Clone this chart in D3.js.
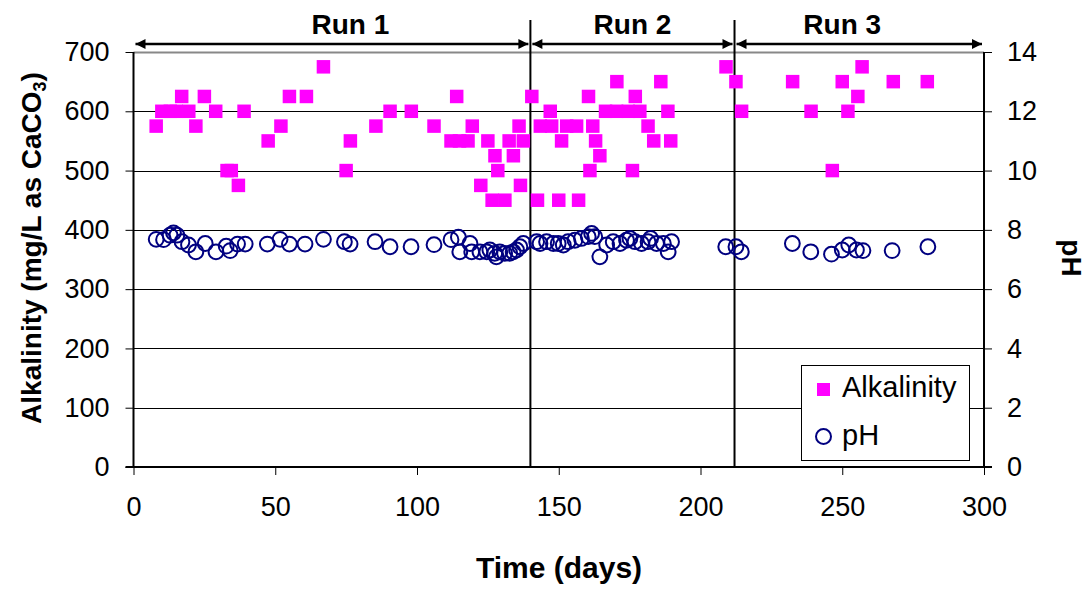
<!DOCTYPE html>
<html>
<head>
<meta charset="utf-8">
<script src="https://cdn.jsdelivr.net/npm/d3@7"></script>
<style>
  html, body { margin: 0; padding: 0; background: #fff; }
  svg { display: block; font-family: Arial, "Liberation Sans", sans-serif; }
</style>
</head>
<body>
<svg id="chart" width="1092" height="590"></svg>
<script>
// Alkalinity samples: day, mg/L as CaCO3
const alkDays = [8, 10, 13, 15, 17, 19.5, 22, 25, 29, 33, 34.5, 37, 39, 47.5, 52, 55, 61, 67, 75, 76.5, 85.5, 90.5, 98,
  106, 112, 114, 115, 118, 119.5, 122.5, 125, 126.5, 127.5, 128.5, 131, 132.5, 134, 136, 136.5, 137.5,
  140.5, 142.5, 143.5, 147, 147.5, 150, 151, 152.8, 156.3, 157, 160.5, 161, 162, 163, 164.5, 166.5, 170.4, 170.5,
  174.5, 176, 177, 178.6, 181.5, 183.5, 186, 188.5, 189.5,
  209, 212.5, 214.5, 232.5, 239, 246.5, 250, 252, 255.5, 257, 268, 280];
const alkValues = [575, 600, 600, 600, 625, 600, 575, 625, 600, 500, 500, 475, 600, 550, 575, 625, 625, 675, 500, 550, 575, 600, 600,
  575, 550, 625, 550, 550, 575, 475, 550, 450, 525, 500, 450, 550, 525, 575, 475, 550,
  625, 450, 575, 600, 575, 450, 550, 575, 575, 450, 625, 500, 575, 550, 525, 600, 600, 650,
  600, 500, 625, 600, 575, 550, 650, 600, 550,
  675, 650, 600, 650, 600, 500, 650, 600, 625, 675, 650, 650];

// pH samples: day, pH
const phDays = [8, 10.6, 12.9, 14.1, 15.3, 17.1, 19.4, 22, 25.3, 29.1, 32.7, 34.1, 36.7, 39.4, 47.2, 51.7, 55, 60.5, 67, 74.4, 76.4, 85.2, 90.5, 97.9,
  106, 112, 114.6, 115.1, 118.7, 119.3, 122.2, 124.6, 125.7, 127.4, 128, 129.2, 130.9, 132.7, 133.9, 135.1, 136.3, 137.5,
  142.2, 143.4, 145.7, 148.1, 149.8, 151.6, 153.3, 155.7, 158, 160.4, 161.6, 162.7, 164.5, 166.9, 169.2, 171.6, 173.9, 175.1,
  176.9, 179.2, 181.5, 182.4, 184.5, 186.9, 188.6, 189.8,
  208.9, 212.5, 214.4, 232.4, 238.9, 246.2, 250, 252.3, 255, 257.3, 267.6, 280.2];
const phValues = [7.68, 7.67, 7.82, 7.9, 7.82, 7.6, 7.49, 7.26, 7.54, 7.26, 7.45, 7.3, 7.52, 7.52, 7.52, 7.68, 7.52, 7.52, 7.68, 7.6, 7.52, 7.6, 7.43, 7.43,
  7.5, 7.67, 7.75, 7.26, 7.54, 7.26, 7.26, 7.26, 7.32, 7.21, 7.09, 7.26, 7.21, 7.21, 7.26, 7.32, 7.43, 7.54,
  7.6, 7.54, 7.6, 7.54, 7.54, 7.49, 7.6, 7.65, 7.71, 7.77, 7.88, 7.77, 7.09, 7.49, 7.6, 7.54, 7.65, 7.71,
  7.6, 7.54, 7.6, 7.71, 7.54, 7.54, 7.26, 7.6,
  7.43, 7.43, 7.26, 7.54, 7.26, 7.18, 7.32, 7.49, 7.32, 7.3, 7.3, 7.43];

// Run boundaries (days), labels and where each label sits (day)
const runBounds = [0, 140, 212, 300];
const runLabels = ["Run 1", "Run 2", "Run 3"];
const runLabelDays = [76.5, 176, 250];

const xTicks = [0, 50, 100, 150, 200, 250, 300];
const alkTicks = [0, 100, 200, 300, 400, 500, 600, 700];
const phTicks = [0, 2, 4, 6, 8, 10, 12, 14];

const svg = d3.select("#chart");
const L = 133.5, R = 984, T = 52, B = 467;

const x = d3.scaleLinear().domain([0, 300]).range([L, R]);
const yA = d3.scaleLinear().domain([0, 700]).range([B, T]);
const yP = d3.scaleLinear().domain([0, 14]).range([B, T]);

const ALK = "#ff00ff", PH = "#000080";

// horizontal gridlines
svg.append("g").selectAll("line").data(alkTicks.slice(1, -1)).join("line")
  .attr("x1", L).attr("x2", R)
  .attr("y1", d => Math.round(yA(d)) + 0.5).attr("y2", d => Math.round(yA(d)) + 0.5)
  .attr("stroke", "#000").attr("stroke-width", 1);

// plot frame top (grey)
svg.append("line").attr("x1", L).attr("x2", R).attr("y1", T + 0.5).attr("y2", T + 0.5)
  .attr("stroke", "#888").attr("stroke-width", 2);

// axes
const fs = "27px";
const gx = svg.append("g").attr("transform", `translate(0,${B})`)
  .call(d3.axisBottom(x).tickValues(xTicks).tickSize(8).tickPadding(22));
const gyL = svg.append("g").attr("transform", `translate(${L},0)`)
  .call(d3.axisLeft(yA).tickValues(alkTicks).tickSize(8).tickPadding(16));
const gyR = svg.append("g").attr("transform", `translate(${R},0)`)
  .call(d3.axisRight(yP).tickValues(phTicks).tickSize(8).tickPadding(15));
[gx, gyL, gyR].forEach(g => {
  g.selectAll("text").attr("font-size", fs).attr("font-family", "Arial, 'Liberation Sans', sans-serif").attr("fill", "#000");
  g.selectAll("line").attr("stroke", "#000");
  g.select(".domain").remove();
});
svg.append("line").attr("x1", L - 8).attr("x2", R + 8).attr("y1", B).attr("y2", B).attr("stroke", "#000").attr("stroke-width", 2);
svg.append("line").attr("x1", L).attr("x2", L).attr("y1", T).attr("y2", B).attr("stroke", "#000").attr("stroke-width", 2);
svg.append("line").attr("x1", R).attr("x2", R).attr("y1", T).attr("y2", B).attr("stroke", "#000").attr("stroke-width", 2);

// run separators
svg.append("g").selectAll("line").data(runBounds.slice(1, -1)).join("line")
  .attr("x1", d => x(d)).attr("x2", d => x(d))
  .attr("y1", 20).attr("y2", B)
  .attr("stroke", "#000").attr("stroke-width", 2);

// run arrows
const defs = svg.append("defs");
defs.append("marker").attr("id", "ah").attr("viewBox", "0 0 10 10")
  .attr("refX", 10).attr("refY", 5).attr("markerWidth", 5).attr("markerHeight", 4)
  .attr("markerUnits", "strokeWidth").attr("orient", "auto-start-reverse")
  .append("path").attr("d", "M0,0 L10,5 L0,10 z").attr("fill", "#000");

const runs = runLabels.map((label, i) => ({ label, a: runBounds[i], b: runBounds[i + 1], at: runLabelDays[i] }));
svg.append("g").selectAll("line").data(runs).join("line")
  .attr("x1", d => x(d.a) + 2).attr("x2", d => x(d.b) - 2)
  .attr("y1", 44).attr("y2", 44)
  .attr("stroke", "#000").attr("stroke-width", 2.5)
  .attr("marker-start", "url(#ah)").attr("marker-end", "url(#ah)");
svg.append("g").selectAll("text").data(runs).join("text")
  .attr("x", d => x(d.at))
  .attr("y", 34)
  .attr("text-anchor", "middle").attr("font-size", "28px").attr("font-weight", "bold")
  .text(d => d.label);

// pH series (open circles)
svg.append("g").selectAll("circle").data(phDays.map((d, i) => [d, phValues[i]])).join("circle")
  .attr("cx", d => x(d[0])).attr("cy", d => yP(d[1])).attr("r", 7.4)
  .attr("fill", "none").attr("stroke", PH).attr("stroke-width", 2);

// Alkalinity series (filled squares)
const S = 13.5;
svg.append("g").selectAll("rect").data(alkDays.map((d, i) => [d, alkValues[i]])).join("rect")
  .attr("x", d => x(d[0]) - S / 2).attr("y", d => yA(d[1]) - S / 2)
  .attr("width", S).attr("height", S).attr("fill", ALK);

// axis titles
svg.append("text").attr("x", 559).attr("y", 578).attr("text-anchor", "middle")
  .attr("font-size", "30px").attr("font-weight", "bold").text("Time (days)");

const yt = svg.append("text").attr("transform", "translate(41,248) rotate(-90)")
  .attr("text-anchor", "middle").attr("font-size", "28px").attr("font-weight", "bold");
yt.append("tspan").text("Alkalinity (mg/L as CaCO");
yt.append("tspan").attr("font-size", "18px").attr("dy", 5).text("3");
yt.append("tspan").attr("dy", -5).text(")");

svg.append("text").attr("transform", "translate(1062,258) rotate(90)")
  .attr("text-anchor", "middle").attr("font-size", "28px").attr("font-weight", "bold").text("pH");

// legend
const lg = svg.append("g");
lg.append("rect").attr("x", 801.5).attr("y", 365.5).attr("width", 168).attr("height", 95)
  .attr("fill", "#fff").attr("stroke", "#000").attr("stroke-width", 1);
lg.append("rect").attr("x", 817).attr("y", 383).attr("width", 13).attr("height", 13).attr("fill", ALK);
lg.append("text").attr("x", 842).attr("y", 397).attr("font-size", "29px").text("Alkalinity");
lg.append("circle").attr("cx", 823.5).attr("cy", 436.5).attr("r", 7.5).attr("fill", "none")
  .attr("stroke", PH).attr("stroke-width", 2);
lg.append("text").attr("x", 842).attr("y", 445).attr("font-size", "29px").text("pH");
</script>
</body>
</html>
